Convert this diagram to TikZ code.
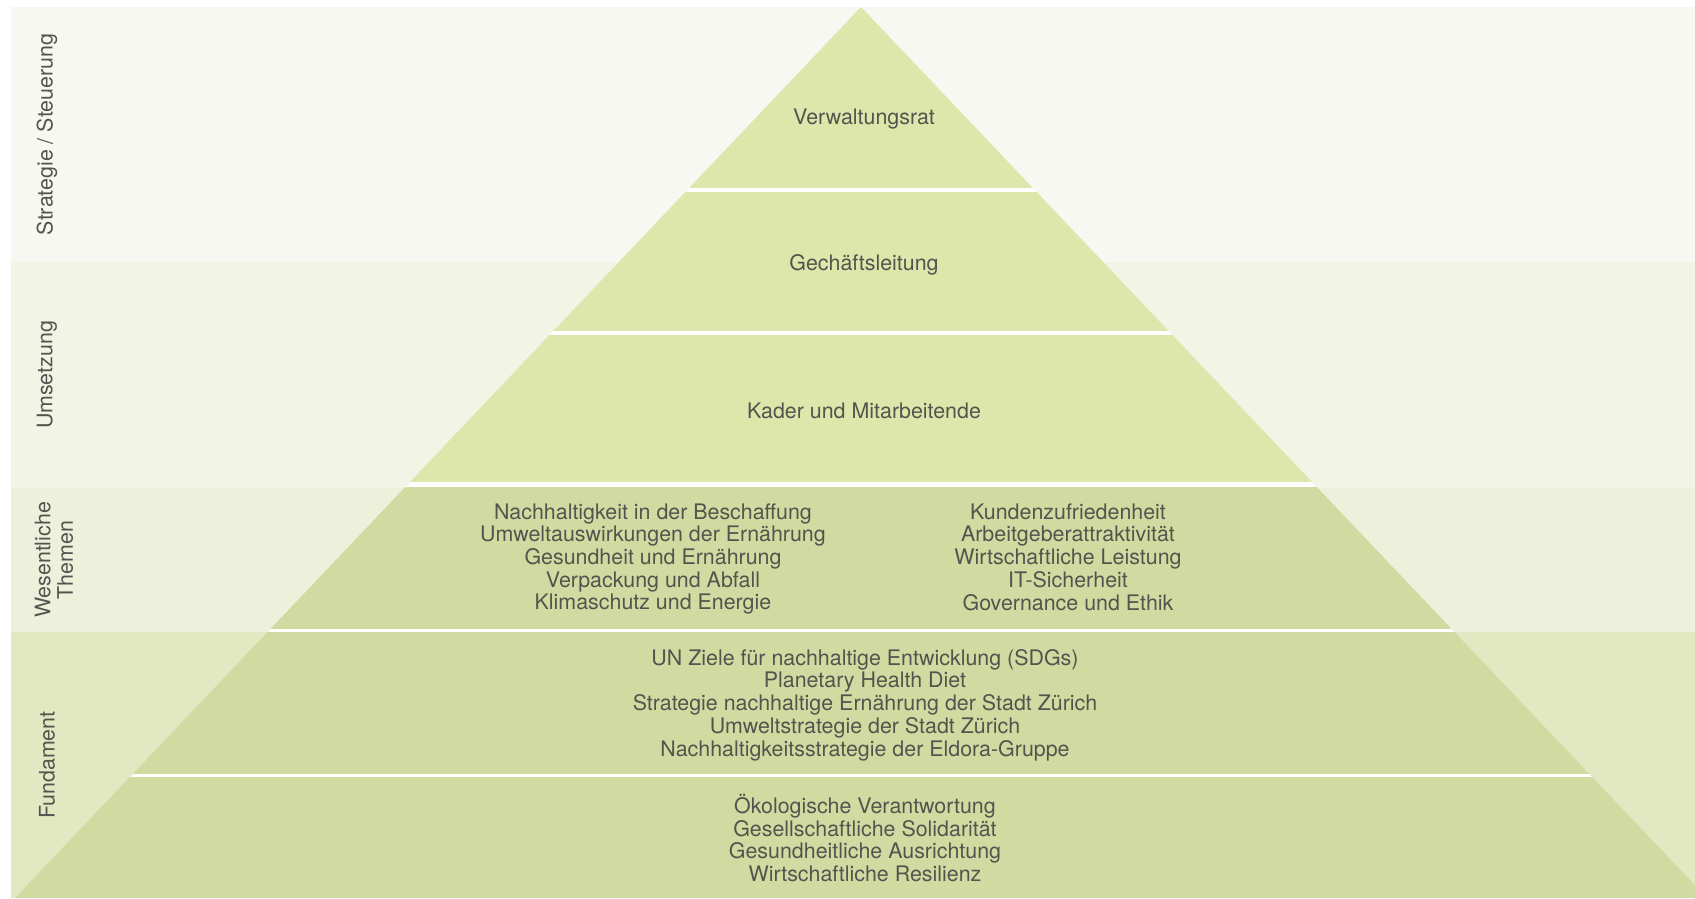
\documentclass[tikz,border=0pt]{standalone}
\usepackage{fontspec}
\setmainfont{TeX Gyre Heros}
\definecolor{bandA}{RGB}{247,248,241}
\definecolor{bandB}{RGB}{242,244,229}
\definecolor{bandC}{RGB}{237,240,218}
\definecolor{bandD}{RGB}{225,232,194}
\definecolor{pyrtop}{RGB}{221,230,171}
\definecolor{pyrbot}{RGB}{209,219,161}
\definecolor{txt}{RGB}{82,85,78}
\tikzset{
  lbl/.style={font=\fontsize{21.4}{22.7}\selectfont, text=txt, align=center, inner sep=0pt},
  side/.style={lbl, rotate=90},
  sepline/.style={draw=white}
}
\begin{document}
\begin{tikzpicture}[x=1pt,y=-1pt]
\fill[white] (0,0) rectangle (1695,898);
\useasboundingbox (0,0) rectangle (1695,898);
% background bands
\fill[bandA] (11,7) rectangle (1695,262);
\fill[bandB] (11,262) rectangle (1695,488);
\fill[bandC] (11,488) rectangle (1695,632);
\fill[bandD] (11,632) rectangle (1695,898);
% pyramid
\coordinate (apex) at (861,7);
\coordinate (bl) at (15,898);
\coordinate (br) at (1707,898);
\begin{scope}
\clip (apex) -- (bl) -- (br) -- cycle;
\fill[pyrtop] (0,0) rectangle (1710,486);
\fill[pyrbot] (0,486) rectangle (1710,900);
\draw[sepline, line width=4pt] (0,189.5) -- (1710,189.5);
\draw[sepline, line width=4pt] (0,333) -- (1710,333);
\draw[sepline, line width=5.5pt] (0,484.5) -- (1710,484.5);
\draw[sepline, line width=3pt] (0,630.5) -- (1710,630.5);
\draw[sepline, line width=3pt] (0,775.5) -- (1710,775.5);
\end{scope}
% side labels
\node[side] (s1) at (47,134.5) {Strategie / Steuerung};
\node[side] (s2) at (47,375) {Umsetzung};
\node[side] (s3) at (54,560) {Wesentliche\\Themen};
\node[side] (s4) at (47,765) {Fundament};
% pyramid texts
\node[lbl] (vr) at (864,119) {Verwaltungsrat};
\node[lbl] (gl) at (864,265) {Gechäftsleitung};
\node[lbl] (km) at (864,411) {Kader und Mitarbeitende};
\node[lbl] (wl) at (653,559) {Nachhaltigkeit in der Beschaffung\\Umweltauswirkungen der Ernährung\\Gesundheit und Ernährung\\Verpackung und Abfall\\Klimaschutz und Energie};
\node[lbl] (wr) at (1068,557) {Kundenzufriedenheit\\Arbeitgeberattraktivität\\Wirtschaftliche Leistung\\IT-Sicherheit\\Governance und Ethik};
\node[lbl] (fa) at (865,705) {UN Ziele für nachhaltige Entwicklung (SDGs)\\Planetary Health Diet\\Strategie nachhaltige Ernährung der Stadt Zürich\\Umweltstrategie der Stadt Zürich\\Nachhaltigkeitsstrategie der Eldora-Gruppe};
\node[lbl] (fb) at (865,838) {Ökologische Verantwortung\\Gesellschaftliche Solidarität\\Gesundheitliche Ausrichtung\\Wirtschaftliche Resilienz};
\end{tikzpicture}
\end{document}
